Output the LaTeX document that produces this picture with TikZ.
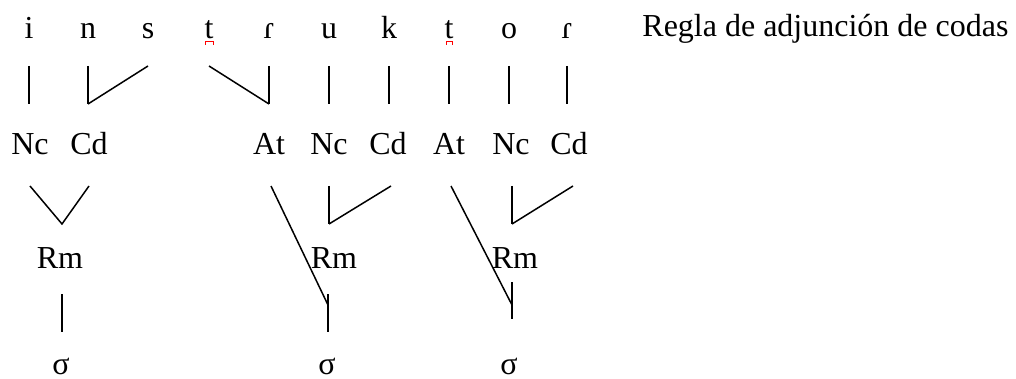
\documentclass[tikz,border=0pt]{standalone}
\usepackage{fontspec}
\setmainfont{Liberation Serif}
\begin{document}
\begin{tikzpicture}[x=0.5pt,y=-0.5pt,
  seg/.style={inner sep=0pt, anchor=base, font=\fontsize{16}{19}\selectfont},
  stem/.style={line width=1.25pt},
  slant/.style={line width=0.75pt},
  bridge/.style={red, line width=0.5pt}]
\useasboundingbox (0,0) rectangle (1016,379);

% segments of the word
\node[seg] (L1)  at (29,39)  {i};
\node[seg] (L2)  at (88,39)  {n};
\node[seg] (L3)  at (148,39) {s};
\node[seg] (L4)  at (209,39) {t};
\node[seg] (L5)  at (269,39) {ɾ};
\node[seg] (L6)  at (329,39) {u};
\node[seg] (L7)  at (389,39) {k};
\node[seg] (L8)  at (449,39) {t};
\node[seg] (L9)  at (509,39) {o};
\node[seg] (L10) at (567,39) {ɾ};
\node[seg, anchor=base west] (title) at (642,37) {Regla de adjunción de codas};

% dental marks under t
\draw[bridge] ([shift={(-4,6)}]L4.base) -- ([shift={(-4,3)}]L4.base)
  -- ([shift={(4,3)}]L4.base) -- ([shift={(4,6)}]L4.base);
\draw[bridge] ([shift={(-3,6)}]L8.base) -- ([shift={(-3,3)}]L8.base)
  -- ([shift={(3,3)}]L8.base) -- ([shift={(3,6)}]L8.base);

% constituents
\node[seg] (Nc1) at (30,155)  {Nc};
\node[seg] (Cd1) at (89,155)  {Cd};
\node[seg] (At1) at (269,155) {At};
\node[seg] (Nc2) at (329,155) {Nc};
\node[seg] (Cd2) at (388,155) {Cd};
\node[seg] (At2) at (449,155) {At};
\node[seg] (Nc3) at (511,155) {Nc};
\node[seg] (Cd3) at (569,155) {Cd};

\node[seg] (Rm1) at (60,268)  {Rm};
\node[seg] (Rm2) at (334,268) {Rm};
\node[seg] (Rm3) at (515,268) {Rm};

\node[seg] (S1) at (61,374)  {σ};
\node[seg] (S2) at (327,374) {σ};
\node[seg] (S3) at (509,374) {σ};

% association lines: segments to constituents
\draw[stem] (L1 |- 0,66) -- (L1 |- 0,104);
\draw[stem] (L2 |- 0,66) -- (L2 |- 0,104);
\draw[slant] (L2 |- 0,104) -- (L3 |- 0,66);
\draw[slant] (L4 |- 0,66) -- (L5 |- 0,104);
\draw[stem] (L5 |- 0,66) -- (L5 |- 0,104);
\draw[stem] (L6 |- 0,66) -- (L6 |- 0,104);
\draw[stem] (L7 |- 0,66) -- (L7 |- 0,104);
\draw[stem] (L8 |- 0,66) -- (L8 |- 0,104);
\draw[stem] (L9 |- 0,66) -- (L9 |- 0,104);
\draw[stem] (L10 |- 0,66) -- (L10 |- 0,104);

% first syllable
\coordinate (j1) at (62,224);
\draw[slant] (Nc1 |- 0,186) -- (j1) -- (Cd1 |- 0,186);
\draw[stem] (j1 |- 0,294) -- (j1 |- 0,332);

% second syllable
\coordinate (j2) at (328,305);
\draw[slant] (271,186) -- (j2);
\draw[stem] (Nc2 |- 0,186) -- (Nc2 |- 0,224);
\draw[slant] (Nc2 |- 0,224) -- (391,186);
\draw[stem] (j2 |- 0,294) -- (j2 |- 0,332);

% third syllable
\coordinate (j3) at (512,305);
\draw[slant] (451,186) -- (j3);
\draw[stem] (j3 |- 0,186) -- (j3 |- 0,224);
\draw[slant] (j3 |- 0,224) -- (573,186);
\draw[stem] (j3 |- 0,282) -- (j3 |- 0,319);
\end{tikzpicture}
\end{document}
